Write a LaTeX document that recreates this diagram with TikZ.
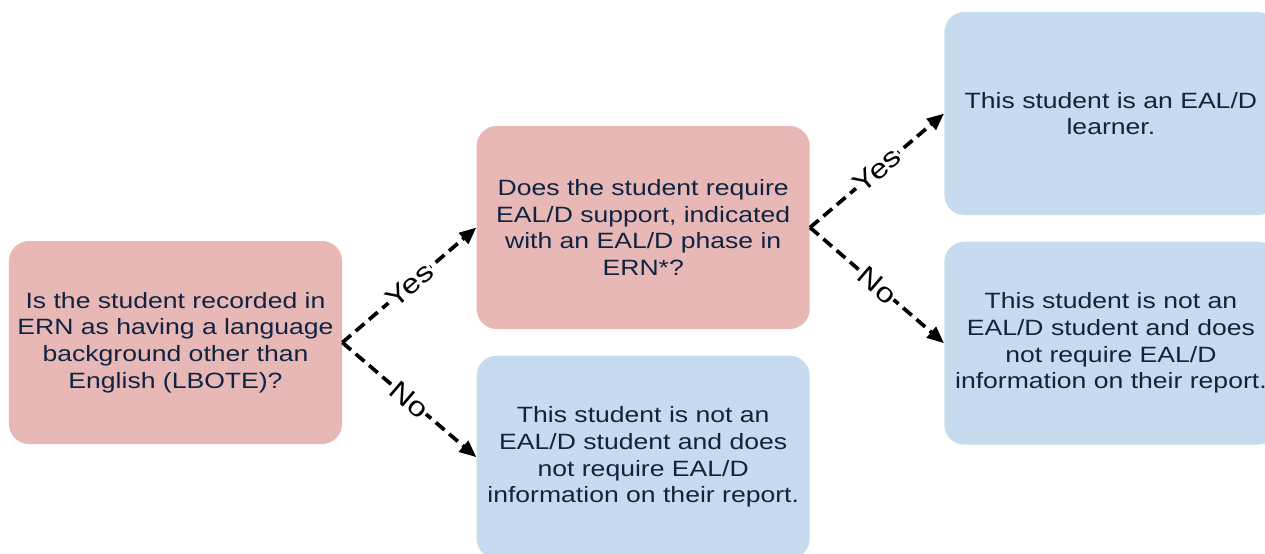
\documentclass[tikz,border=0pt]{standalone}
\usepackage{fontspec}
\setmainfont{Liberation Sans}[FakeStretch=1.2]
\usetikzlibrary{positioning,arrows.meta}

\definecolor{qpink}{RGB}{232,184,182}
\definecolor{ablue}{RGB}{198,219,238}
\definecolor{navytext}{RGB}{16,36,66}

\tikzstyle{question}=[fill=qpink, rounded corners=0.4cm, minimum width=6.66cm,
    minimum height=4.06cm, align=center, text=navytext,
    font=\fontsize{12.6}{15.2}\selectfont]
\tikzstyle{outcome} = [question, fill=ablue]
\tikzstyle{branch} = [-{Triangle[length=0.34cm,width=0.28cm]}, line width=2.1pt,
    dash pattern=on 6.5pt off 3.5pt]
\tikzstyle{answer} = [fill=white, sloped, inner sep=0.5pt, font=\fontsize{15.5}{17}\selectfont]

\begin{document}
\begin{tikzpicture}
	\path[use as bounding box, clip] (0,0) rectangle (25.3,-11.08);
	% Define the nodes in the picture
	\node (lbote) [question] at (3.51,-6.85) {Is the student recorded in\\ERN as having a language\\background other than\\English (LBOTE)?};
	\node (ealdq) [question, right=2.68cm of lbote, yshift=2.3cm] {Does the student require\\EAL/D support, indicated\\with an EAL/D phase in\\ERN*?};
	\node (notealdA) [outcome, below=0.52cm of ealdq] {This student is not an\\EAL/D student and does\\not require EAL/D\\information on their report.};
	\node (learner) [outcome, right=2.68cm of ealdq, yshift=2.28cm] {This student is an EAL/D\\learner.};
	\node (notealdB) [outcome, below=0.52cm of learner] {This student is not an\\EAL/D student and does\\not require EAL/D\\information on their report.};

	% Define the edges in the picture
	\draw [branch] (lbote.east) -- node[answer]{Yes} (ealdq.west);
	\draw [branch] (lbote.east) -- node[answer]{No} (notealdA.west);
	\draw [branch] (ealdq.east) -- node[answer]{Yes} (learner.west);
	\draw [branch] (ealdq.east) -- node[answer]{No} (notealdB.west);
\end{tikzpicture}
\end{document}
